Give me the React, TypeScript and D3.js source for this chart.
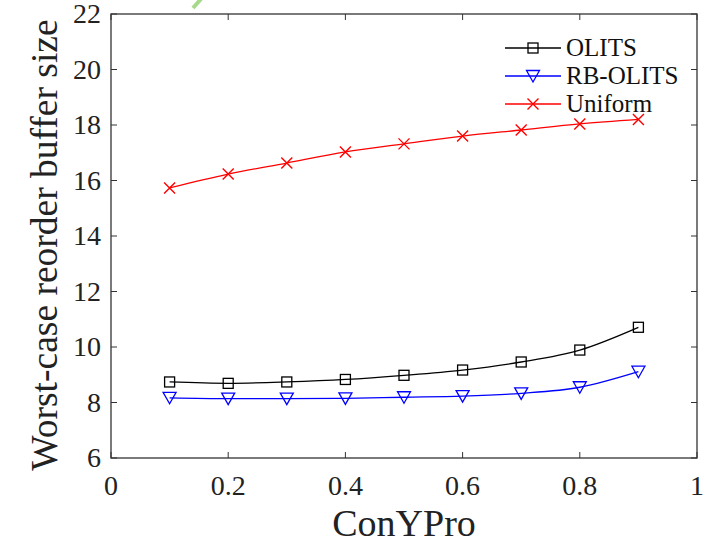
import React from "react";
import * as d3 from "d3";

const xs = [0.1, 0.2, 0.3, 0.4, 0.5, 0.6, 0.7, 0.8, 0.9];
const olits = [8.74, 8.69, 8.74, 8.83, 8.98, 9.17, 9.46, 9.89, 10.71];
const rbOlits = [8.17, 8.14, 8.14, 8.15, 8.19, 8.23, 8.33, 8.55, 9.11];
const uniform = [15.73, 16.23, 16.63, 17.03, 17.32, 17.6, 17.82, 18.04, 18.2];
const xTicks = [0, 0.2, 0.4, 0.6, 0.8, 1];
const yTicks = [6, 8, 10, 12, 14, 16, 18, 20, 22];
const seriesNames = ["OLITS", "RB-OLITS", "Uniform"];

const W = 710, H = 544;
const L = 111, R = 697, T = 14, B = 458;
const font = "'Liberation Serif', 'Times New Roman', serif";

export default function App() {
  const x = d3.scaleLinear().domain([0, 1]).range([L, R]);
  const y = d3.scaleLinear().domain([6, 22]).range([B, T]);
  const line = d3.line<number>().x((_, i) => x(xs[i])).y((d) => y(d)).curve(d3.curveMonotoneX);
  const axisColor = "#333";

  const square = (cx: number, cy: number, k: string) => (
    <rect key={k} x={cx - 5} y={cy - 5} width={10} height={10} fill="none" stroke="#000" strokeWidth={1.3} />
  );
  const tri = (cx: number, cy: number, k: string) => (
    <path key={k} d={`M${cx - 6.5},${cy - 5.5}L${cx + 6.5},${cy - 5.5}L${cx},${cy + 6}Z`} fill="none" stroke="#0000ff" strokeWidth={1.3} />
  );
  const cross = (cx: number, cy: number, k: string) => (
    <path key={k} d={`M${cx - 5.5},${cy - 5.5}L${cx + 5.5},${cy + 5.5}M${cx - 5.5},${cy + 5.5}L${cx + 5.5},${cy - 5.5}`} fill="none" stroke="#ff0000" strokeWidth={1.4} />
  );

  const series = [
    { name: seriesNames[0], data: olits, color: "#000", marker: square },
    { name: seriesNames[1], data: rbOlits, color: "#0000ff", marker: tri },
    { name: seriesNames[2], data: uniform, color: "#ff0000", marker: cross },
  ];

  return (
    <svg width={W} height={H} style={{ position: "absolute", left: 0, top: 0, background: "#fff" }}>
      <rect x={0} y={0} width={W} height={H} fill="#fff" />
      <line x1={193} y1={8} x2={201} y2={-1} stroke="#a6d98a" strokeWidth={4} />
      {xTicks.map((t) => (
        <g key={"xt" + t}>
          <line x1={x(t)} x2={x(t)} y1={B} y2={B - 6} stroke={axisColor} strokeWidth={1} />
          <line x1={x(t)} x2={x(t)} y1={T} y2={T + 6} stroke={axisColor} strokeWidth={1} />
          <text x={x(t)} y={B + 37} textAnchor="middle" fontFamily={font} fontSize={28} fill="#222">
            {String(t)}
          </text>
        </g>
      ))}
      {yTicks.map((t) => (
        <g key={"yt" + t}>
          <line x1={L} x2={L + 6} y1={y(t)} y2={y(t)} stroke={axisColor} strokeWidth={1} />
          <line x1={R} x2={R - 6} y1={y(t)} y2={y(t)} stroke={axisColor} strokeWidth={1} />
          <text x={L - 10} y={y(t) + 9} textAnchor="end" fontFamily={font} fontSize={28} fill="#222">
            {String(t)}
          </text>
        </g>
      ))}
      <rect x={L} y={T} width={R - L} height={B - T} fill="none" stroke={axisColor} strokeWidth={1.3} />
      {series.map((s) => (
        <g key={s.name}>
          <path d={line(s.data) || ""} fill="none" stroke={s.color} strokeWidth={1.3} />
          {s.data.map((v, i) => s.marker(x(xs[i]), y(v), s.name + i))}
        </g>
      ))}
      {series.map((s, i) => {
        const ly = 48 + i * 28;
        return (
          <g key={"lg" + s.name}>
            <line x1={505} x2={561} y1={ly} y2={ly} stroke={s.color} strokeWidth={1.3} />
            {s.marker(533, ly, "lm" + i)}
            <text x={566} y={ly + 8} fontFamily={font} fontSize={25} fill="#111">
              {s.name}
            </text>
          </g>
        );
      })}
      <text x={(L + R) / 2} y={536} textAnchor="middle" fontFamily={font} fontSize={38} fill="#222">
        ConYPro
      </text>
      <text transform={`translate(57, 245) rotate(-90)`} textAnchor="middle" fontFamily={font} fontSize={37.5} fill="#222">
        Worst-case reorder buffer size
      </text>
    </svg>
  );
}
